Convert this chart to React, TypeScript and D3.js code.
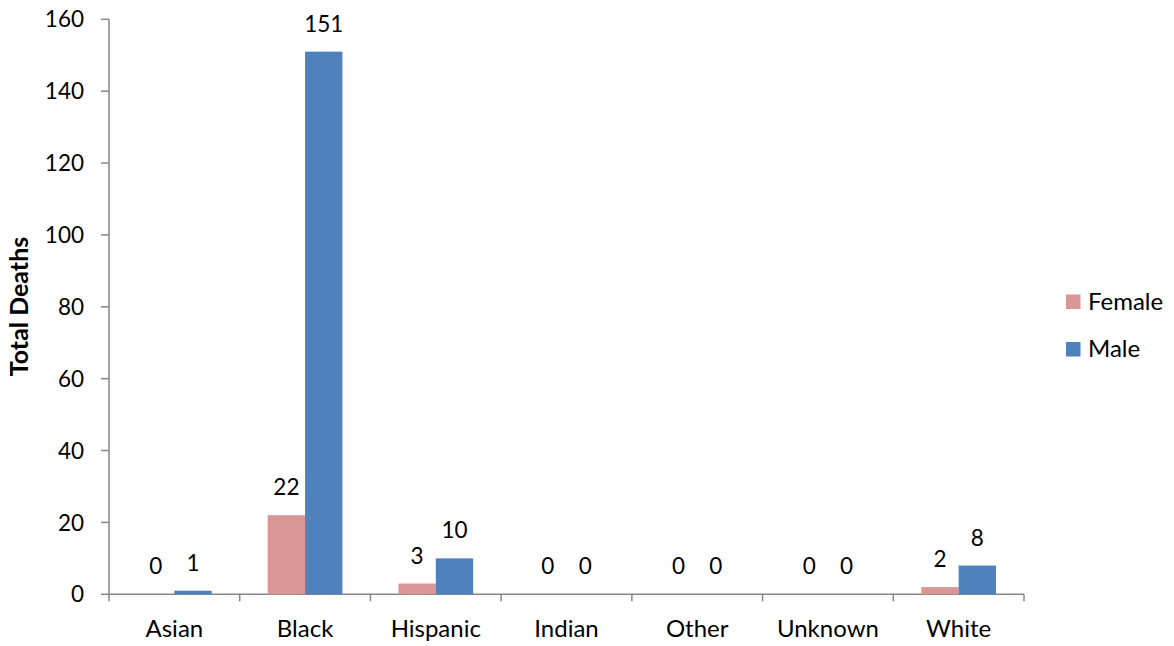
import React from "react";
import * as d3 from "d3";

const categories = ["Asian", "Black", "Hispanic", "Indian", "Other", "Unknown", "White"];
const seriesNames = ["Female", "Male"];
const femaleValues = [0, 22, 3, 0, 0, 0, 2];
const maleValues = [1, 151, 10, 0, 0, 0, 8];
const yTicks = [0, 20, 40, 60, 80, 100, 120, 140, 160];
const colors = ["#D99694", "#4F81BD"];

const W = 1174;
const H = 646;
const left = 109;
const right = 1024;
const top = 19.3;
const bottom = 594.3;
const font = "Lato, 'Open Sans', sans-serif";
const numFs = 22.5;
const wordFs = 24;

export default function App() {
  const x = d3.scaleBand<string>().domain(categories).range([left, right]).paddingInner(0).paddingOuter(0);
  const inner = d3
    .scaleBand<string>()
    .domain(seriesNames)
    .range([0, x.bandwidth()])
    .paddingInner(0)
    .paddingOuter(0.75);
  const y = d3.scaleLinear().domain([0, 160]).range([bottom, top]);
  const series = [femaleValues, maleValues];
  const axisColor = "#868686";

  return (
    <svg
      width={W}
      height={H}
      style={{ position: "absolute", left: 0, top: 0, background: "#fff" }}
      fontFamily={font}
    >
      {/* y axis */}
      <line x1={left} x2={left} y1={y(160)} y2={bottom} stroke={axisColor} strokeWidth={1.5} />
      {yTicks.map((t) => (
        <g key={t}>
          <line x1={left - 8} x2={left} y1={y(t)} y2={y(t)} stroke={axisColor} strokeWidth={1.5} />
          <text x={84} y={y(t)} dy="0.36em" textAnchor="end" fontSize={numFs} fill="#000">
            {t}
          </text>
        </g>
      ))}
      {/* x axis */}
      <line x1={left} x2={right} y1={bottom} y2={bottom} stroke={axisColor} strokeWidth={1.5} />
      {categories.map((c, i) => (
        <line
          key={"t" + i}
          x1={x(c)!}
          x2={x(c)!}
          y1={bottom}
          y2={bottom + 7}
          stroke={axisColor}
          strokeWidth={1.5}
        />
      ))}
      <line x1={right} x2={right} y1={bottom} y2={bottom + 7} stroke={axisColor} strokeWidth={1.5} />
      {categories.map((c) => (
        <text key={"l" + c} x={x(c)! + x.bandwidth() / 2} y={637} textAnchor="middle" fontSize={wordFs} fill="#000">
          {c}
        </text>
      ))}
      {/* bars */}
      {series.map((vals, si) =>
        vals.map((v, ci) => {
          const bx = x(categories[ci])! + inner(seriesNames[si])!;
          const bw = inner.bandwidth();
          return (
            <g key={si + "-" + ci}>
              {v > 0 && (
                <rect x={bx} y={y(v)} width={bw} height={bottom - y(v)} fill={colors[si]} />
              )}
              <text x={bx + bw / 2} y={y(v) - 20} textAnchor="middle" fontSize={numFs} fill="#000">
                {v}
              </text>
            </g>
          );
        })
      )}
      {/* y title */}
      <text
        transform={`translate(27.5, ${(238 + 375) / 2}) rotate(-90)`}
        textAnchor="middle"
        fontSize={25}
        fontWeight="bold"
        fill="#000"
      >
        Total Deaths
      </text>
      {/* legend */}
      {seriesNames.map((s, i) => (
        <g key={"lg" + s}>
          <rect x={1066} y={294.5 + i * 47.5} width={14.5} height={14.5} fill={colors[i]} />
          <text x={1088} y={309.5 + i * 47.5} fontSize={wordFs} fill="#000">
            {s}
          </text>
        </g>
      ))}
    </svg>
  );
}
